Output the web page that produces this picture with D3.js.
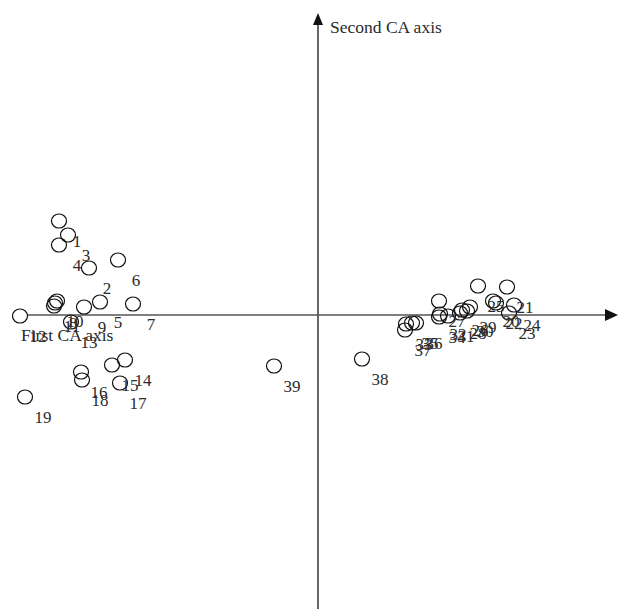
<!DOCTYPE html>
<html>
<head>
<meta charset="utf-8">
<script src="https://cdn.jsdelivr.net/npm/d3@7"></script>
<style>
  html, body { margin: 0; padding: 0; background: #fff; }
  svg { display: block; }
  text { font-family: "Liberation Serif", "Times New Roman", serif; fill: #2b2b2b; }
</style>
</head>
<body>
<svg id="chart" width="618" height="610"></svg>
<script>
// Point labels (categories)
const labels = ["1","2","3","4","5","6","7","8","9","10","11","12","13","14","15","16","17","18","19",
                "20","21","22","23","24","25","26","27","28","29","30","31","32","33","34","35","36","37","38","39"];
// First CA axis coordinates
const dim1 = [-1.295,-1.145,-1.25,-1.295,-1.09,-1.00,-0.925,-1.315,-1.17,-1.305,-1.32,-1.49,-1.235,-0.965,-1.03,-1.185,-0.99,-1.18,-1.465,
              0.875,0.945,0.89,0.955,0.98,0.80,0.72,0.605,0.71,0.76,0.745,0.65,0.61,0.44,0.605,0.47,0.49,0.435,0.22,-0.22];
// Second CA axis coordinates
const dim2 = [0.47,0.235,0.40,0.35,0.065,0.275,0.055,0.06,0.04,0.07,0.045,-0.005,-0.035,-0.225,-0.25,-0.285,-0.34,-0.325,-0.41,
              0.07,0.14,0.06,0.01,0.05,0.145,0.025,0.07,0.01,0.04,0.02,-0.005,0.005,-0.045,-0.01,-0.04,-0.04,-0.075,-0.22,-0.255];
const axisTitles = ["First CA axis", "Second CA axis"];

const data = labels.map((l, i) => ({ label: l, x: dim1[i], y: dim2[i] }));

const svg = d3.select("#chart");
const x = d3.scaleLinear().domain([-1.5, 1.5]).range([18, 618]);
const y = d3.scaleLinear().domain([-1.5, 1.5]).range([615, 15]);

const axisColor = "#555";
// Horizontal axis
svg.append("line")
  .attr("x1", x(-1.455)).attr("x2", x(1.44))
  .attr("y1", y(0)).attr("y2", y(0))
  .attr("stroke", axisColor).attr("stroke-width", 1.6);
svg.append("path")
  .attr("d", `M${x(1.5)},${y(0)} L${x(1.435)},${y(0) - 6} L${x(1.435)},${y(0) + 6} Z`)
  .attr("fill", "#111");
// Vertical axis
svg.append("line")
  .attr("x1", x(0)).attr("x2", x(0))
  .attr("y1", y(-1.47)).attr("y2", y(1.45))
  .attr("stroke", axisColor).attr("stroke-width", 1.8);
svg.append("path")
  .attr("d", `M${x(0)},${y(1.51)} L${x(0) - 5},${y(1.45)} L${x(0) + 5},${y(1.45)} Z`)
  .attr("fill", "#111");

// Axis titles
svg.append("text").attr("x", 21).attr("y", y(0) + 26)
  .attr("font-size", 17.5).text(axisTitles[0]);
svg.append("text").attr("x", x(0) + 12).attr("y", 33)
  .attr("font-size", 17.5).text(axisTitles[1]);

// Points
svg.append("g").selectAll("ellipse").data(data).join("ellipse")
  .attr("cx", d => x(d.x))
  .attr("cy", d => y(d.y))
  .attr("rx", 7.5).attr("ry", 7)
  .attr("fill", "none")
  .attr("stroke", "#111")
  .attr("stroke-width", 1.2);

// Labels (offset from points)
svg.append("g").selectAll("text").data(data).join("text")
  .attr("x", d => x(d.x) + 18)
  .attr("y", d => y(d.y) + 26)
  .attr("text-anchor", "middle")
  .attr("font-size", 17)
  .text(d => d.label);
</script>
</body>
</html>
